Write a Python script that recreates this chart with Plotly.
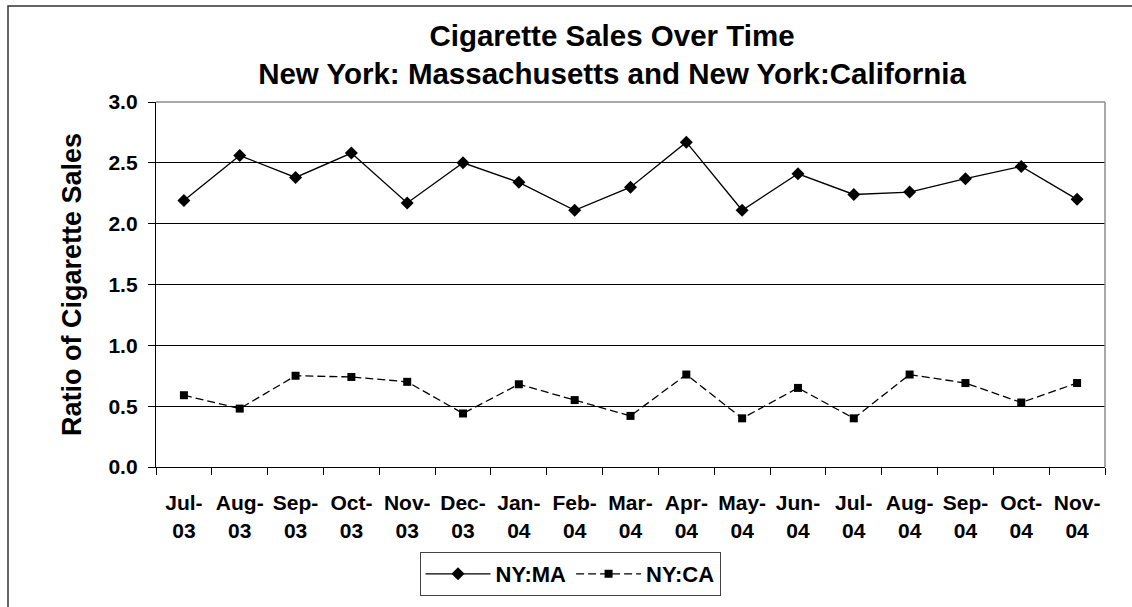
import plotly.graph_objects as go

months = ["Jul-03", "Aug-03", "Sep-03", "Oct-03", "Nov-03", "Dec-03", "Jan-04", "Feb-04",
          "Mar-04", "Apr-04", "May-04", "Jun-04", "Jul-04", "Aug-04", "Sep-04", "Oct-04", "Nov-04"]
ny_ma = [2.19, 2.56, 2.38, 2.58, 2.17, 2.50, 2.34, 2.11, 2.30, 2.67, 2.11, 2.41, 2.24, 2.26, 2.37, 2.47, 2.20]
ny_ca = [0.59, 0.48, 0.75, 0.74, 0.70, 0.44, 0.68, 0.55, 0.42, 0.76, 0.40, 0.65, 0.40, 0.76, 0.69, 0.53, 0.69]
y_ticks = [0.0, 0.5, 1.0, 1.5, 2.0, 2.5, 3.0]

tick_text = [m.replace("-", "-<br>") for m in months]

FONT = "Arial, Liberation Sans, sans-serif"
W, H = 1132, 607
L, R, T, B = 156, 27, 102, 140

fig = go.Figure()
fig.add_trace(go.Scatter(
    x=months, y=ny_ma, name="NY:MA", mode="lines+markers",
    line=dict(color="black", width=1.3),
    marker=dict(symbol="diamond", size=10, color="black"),
))
fig.add_trace(go.Scatter(
    x=months, y=ny_ca, name="NY:CA", mode="lines+markers",
    line=dict(color="black", width=1.3, dash="8px,4px"),
    marker=dict(symbol="square", size=8, color="black"),
))

pw = W - L - R
ph = H - T - B
# outer chart border (left and top visible) and plot-area top/right border
fig.add_shape(type="rect", xref="paper", yref="paper",
              x0=(8 - L) / pw, x1=(W + 20 - L) / pw,
              y0=-(H + 20 - T - ph) / ph, y1=(H - B - 6) / ph,
              line=dict(color="#333", width=1.5), layer="above")
fig.add_shape(type="line", xref="paper", yref="paper", x0=0, x1=1, y0=1, y1=1,
              line=dict(color="#8c8c8c", width=1.5), layer="above")
fig.add_shape(type="line", xref="paper", yref="paper", x0=1, x1=1, y0=0, y1=1,
              line=dict(color="#8c8c8c", width=1.5), layer="above")

fig.update_layout(
    width=W, height=H,
    margin=dict(l=L, r=R, t=T, b=B, autoexpand=False),
    paper_bgcolor="white", plot_bgcolor="white",
    font=dict(family=FONT, color="black"),
    title=dict(
        text="<b>Cigarette Sales Over Time<br>New York: Massachusetts and New York:California</b>",
        font=dict(size=29.5, family=FONT, color="black"),
        x=612 / W, xanchor="center", xref="container",
        y=1 - 46 / H, yanchor="top", yref="container",
    ),
    showlegend=True,
    legend=dict(
        orientation="h", xref="container", yref="container",
        x=570 / W, xanchor="center", y=1 - 552 / H, yanchor="top",
        font=dict(size=22, family=FONT, color="black", weight="bold"),
        bordercolor="#444", borderwidth=1, bgcolor="white",
        itemwidth=65, tracegroupgap=0,
    ),
)

fig.update_xaxes(
    type="category", categoryorder="array", categoryarray=months,
    range=[-0.5, len(months) - 0.5],
    tickvals=months, ticktext=tick_text, tickangle=0,
    tickson="boundaries", ticks="outside", ticklen=7, tickcolor="black", tickwidth=1,
    showline=True, linecolor="black", linewidth=1.3,
    showgrid=False, zeroline=False,
    tickfont=dict(size=21, family=FONT, color="black", weight="bold"),
    ticklabelstandoff=17,
)
fig.update_yaxes(
    range=[0, 3], tickvals=y_ticks, tickformat=".1f",
    ticks="outside", ticklen=7, tickcolor="black", tickwidth=1,
    showline=True, linecolor="black", linewidth=1.3,
    showgrid=True, gridcolor="black", gridwidth=1, zeroline=False,
    tickfont=dict(size=21, family=FONT, color="black", weight="bold"),
    ticklabelstandoff=6,
    title=dict(text="<b>Ratio of Cigarette Sales</b>", font=dict(size=27, family=FONT, color="black"),
               standoff=18),
)

fig.write_html("out.html", config={"displayModeBar": False},
               post_script="document.body.style.margin='0px';document.body.style.overflow='hidden';")
